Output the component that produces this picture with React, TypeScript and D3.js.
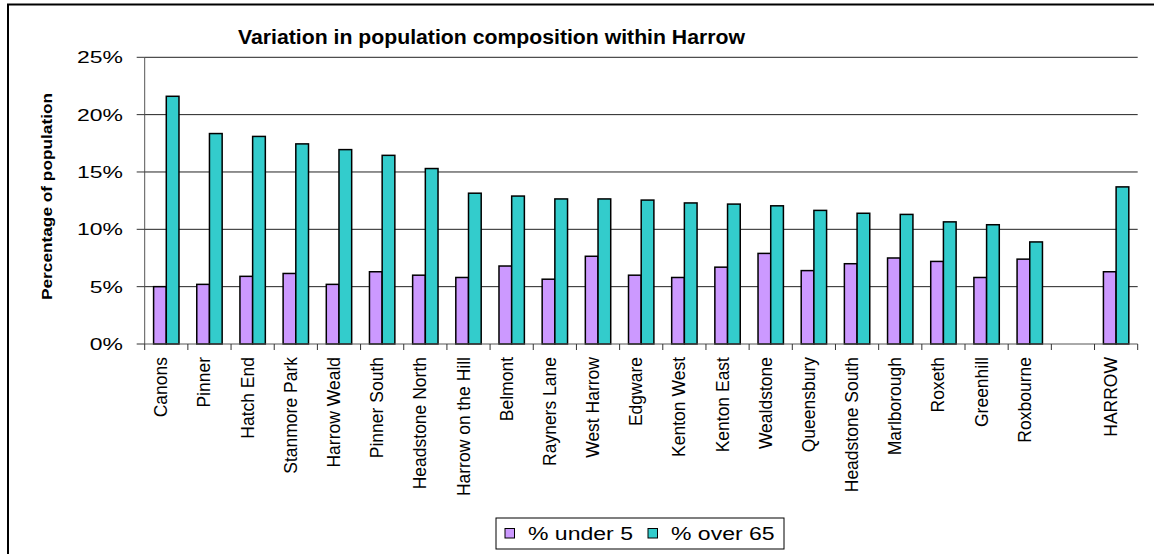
import React from "react";
import * as d3 from "d3";

const categories = [
  "Canons", "Pinner", "Hatch End", "Stanmore Park", "Harrow Weald", "Pinner South",
  "Headstone North", "Harrow on the Hill", "Belmont", "Rayners Lane", "West Harrow",
  "Edgware", "Kenton West", "Kenton East", "Wealdstone", "Queensbury",
  "Headstone South", "Marlborough", "Roxeth", "Greenhill", "Roxbourne", "", "HARROW",
];
const under5: (number | null)[] = [
  5.0, 5.2, 5.9, 6.15, 5.2, 6.3, 6.0, 5.8, 6.8, 5.65, 7.65, 6.0, 5.8, 6.7, 7.9,
  6.4, 7.0, 7.5, 7.2, 5.8, 7.4, null, 6.3,
];
const over65: (number | null)[] = [
  21.6, 18.35, 18.1, 17.45, 16.95, 16.45, 15.3, 13.15, 12.9, 12.65, 12.65, 12.55,
  12.3, 12.2, 12.05, 11.65, 11.4, 11.3, 10.65, 10.4, 8.9, null, 13.7,
];
const yTicks = [0, 5, 10, 15, 20, 25];
const seriesNames = ["% under 5", "% over 65"];
const seriesColors = ["#CC99FF", "#33CCCC"];
const title = "Variation in population composition within Harrow";
const yTitle = "Percentage of population";

const FONT = "'Liberation Sans', Arial, sans-serif";

export default function App() {
  const W = 1154, H = 554;
  const left = 144.7, right = 1137.7, top = 57.3, bottom = 344;
  const x = d3.scaleBand<string>().domain(categories.map((c, i) => i + "")).range([left, right]).padding(0);
  const y = d3.scaleLinear().domain([0, 25]).range([bottom, top]);
  const bw = x.bandwidth();
  const barW = bw * 0.294;
  const off = (bw - 2 * barW) / 2;
  const series = [under5, over65];

  return (
    <svg width={W} height={H} style={{ position: "absolute", left: 0, top: 0, background: "#fff" }}>
      <rect x={0} y={0} width={W} height={H} fill="#fff" />
      <rect x={8} y={4.5} width={1300} height={700} fill="none" stroke="#000" strokeWidth={2} />
      <text x={491.5} y={44} textAnchor="middle" fontFamily={FONT} fontWeight="bold" fontSize={20}
        textLength={507} lengthAdjust="spacingAndGlyphs">{title}</text>

      {/* gridlines */}
      {yTicks.filter(t => t > 0).map(t => (
        <line key={t} x1={left} x2={right} y1={y(t)} y2={y(t)} stroke="#222" strokeWidth={1} />
      ))}
      {/* y axis */}
      <line x1={left} x2={left} y1={top} y2={bottom} stroke="#555" strokeWidth={1} />
      {yTicks.map(t => (
        <g key={t}>
          <line x1={left - 8} x2={left} y1={y(t)} y2={y(t)} stroke="#333" strokeWidth={1} />
          <text transform={`translate(123, ${y(t) + 6}) scale(1.35,1)`} textAnchor="end"
            fontFamily={FONT} fontSize={17}>{t + "%"}</text>
        </g>
      ))}
      <text transform={`translate(52, 196.5) rotate(-90)`} textAnchor="middle" fontFamily={FONT}
        fontWeight="bold" fontSize={15} textLength={207} lengthAdjust="spacingAndGlyphs">{yTitle}</text>

      {/* bars */}
      {series.map((s, si) =>
        s.map((v, i) =>
          v == null ? null : (
            <rect key={si + "-" + i} x={(x(i + "") as number) + off + si * barW} y={y(v)}
              width={barW} height={y(0) - y(v)} fill={seriesColors[si]} stroke="#000" strokeWidth={1.5} />
          )
        )
      )}

      {/* x axis */}
      <line x1={left} x2={right} y1={bottom} y2={bottom} stroke="#555" strokeWidth={1} />
      {categories.map((c, i) => (
        <line key={"t" + i} x1={(x(i + "") as number)} x2={(x(i + "") as number)} y1={bottom} y2={bottom + 6} stroke="#333" />
      ))}
      <line x1={right} x2={right} y1={bottom} y2={bottom + 6} stroke="#333" />
      {categories.map((c, i) => (
        <text key={"l" + i} transform={`translate(${(x(i + "") as number) + bw / 2 + 1}, 357) rotate(-90)`}
          textAnchor="end" fontFamily={FONT} fontSize={17.5}>{c}</text>
      ))}

      {/* legend */}
      <rect x={496} y={518} width={288} height={31} fill="#fff" stroke="#000" strokeWidth={1} />
      {seriesNames.map((n, i) => {
        const sx = i === 0 ? 505 : 648;
        const tx = i === 0 ? 528 : 671;
        return (
          <g key={n}>
            <rect x={sx} y={528.5} width={9.5} height={9.5} fill={seriesColors[i]} stroke="#000" strokeWidth={1} />
            <text transform={`translate(${tx}, 539.5) scale(1.28,1)`} fontFamily={FONT} fontSize={18}>{n}</text>
          </g>
        );
      })}
    </svg>
  );
}
